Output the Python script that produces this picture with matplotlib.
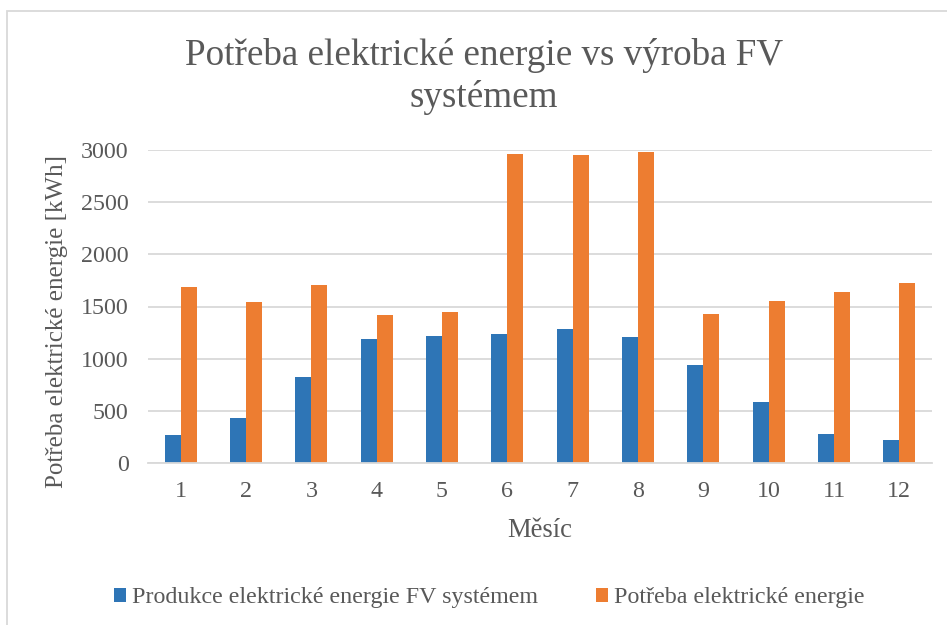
import matplotlib
matplotlib.use("Agg")
import matplotlib.pyplot as plt
import matplotlib.patches as mpatches
import numpy as np

months = ["1", "2", "3", "4", "5", "6", "7", "8", "9", "10", "11", "12"]
production = [272, 435, 825, 1193, 1222, 1241, 1289, 1203, 937, 589, 278, 221]
demand = [1686, 1542, 1702, 1414, 1452, 2962, 2949, 2978, 1427, 1554, 1638, 1724]
series_names = ["Produkce elektrické energie FV systémem", "Potřeba elektrické energie"]
title_lines = ["Potřeba elektrické energie vs výroba FV", "systémem"]
xlabel = "Měsíc"
ylabel = "Potřeba elektrické energie [kWh]"
yticks = [0, 500, 1000, 1500, 2000, 2500, 3000]

BLUE = "#2E75B6"
ORANGE = "#ED7D31"
GRID = "#D9D9D9"
TXT = "#595959"
FONT = ["Liberation Serif", "DejaVu Serif"]

plt.rcParams["font.family"] = FONT

W, H = 947, 625
fig = plt.figure(figsize=(W / 100, H / 100), dpi=100)
ax = fig.add_axes([148 / W, 1 - 463 / H, (932 - 148) / W, (463 - 150) / H])

x = np.arange(1, len(months) + 1)
bw = 0.245
ax.bar(x - bw / 2, production, width=bw, color=BLUE, label=series_names[0], zorder=3)
ax.bar(x + bw / 2, demand, width=bw, color=ORANGE, label=series_names[1], zorder=3)

ax.set_xlim(0.5, len(months) + 0.5)
ax.set_ylim(0, 3000)
ax.set_yticks(yticks)
ax.set_yticklabels([str(v) for v in yticks])
ax.set_xticks(x)
ax.set_xticklabels(months)
ax.tick_params(axis="both", length=0, labelsize=17.3, colors=TXT)
ax.tick_params(axis="x", pad=13)
ax.tick_params(axis="y", pad=14)
ax.grid(axis="y", color=GRID, linewidth=1.3, zorder=0)
for s in ["left", "right", "top"]:
    ax.spines[s].set_visible(False)
ax.spines["bottom"].set_color(GRID)
ax.spines["bottom"].set_linewidth(1.3)
ax.spines["bottom"].set_zorder(4)

tx = 0.5 * (185 + 783) / W
fig.text(tx, 1 - 65 / H, title_lines[0], ha="center", va="baseline", fontsize=26.7, color=TXT)
fig.text(tx, 1 - 107 / H, title_lines[1], ha="center", va="baseline", fontsize=26.7, color=TXT)
fig.text(539.5 / W, 1 - 537 / H, xlabel, ha="center", va="baseline", fontsize=19.2, color=TXT)
fig.text(57 / W, 1 - 322 / H, ylabel, ha="center", va="center", rotation=90,
         fontsize=18, color=TXT)

leg = fig.legend(loc="center", bbox_to_anchor=(489.5 / W, 1 - 598 / H), ncol=2,
                 frameon=False, fontsize=17.3, handlelength=0.5, handleheight=0.5,
                 handletextpad=0.25, columnspacing=2.4, borderaxespad=0, borderpad=0)
for t in leg.get_texts():
    t.set_color(TXT)

border = mpatches.Rectangle((7 / W, -0.2), 2.0, 1 - 10.7 / H + 0.2, transform=fig.transFigure,
                            fill=False, edgecolor=GRID, linewidth=1.3, clip_on=False)
fig.add_artist(border)

fig.savefig("out.png", dpi=100, facecolor="white")
